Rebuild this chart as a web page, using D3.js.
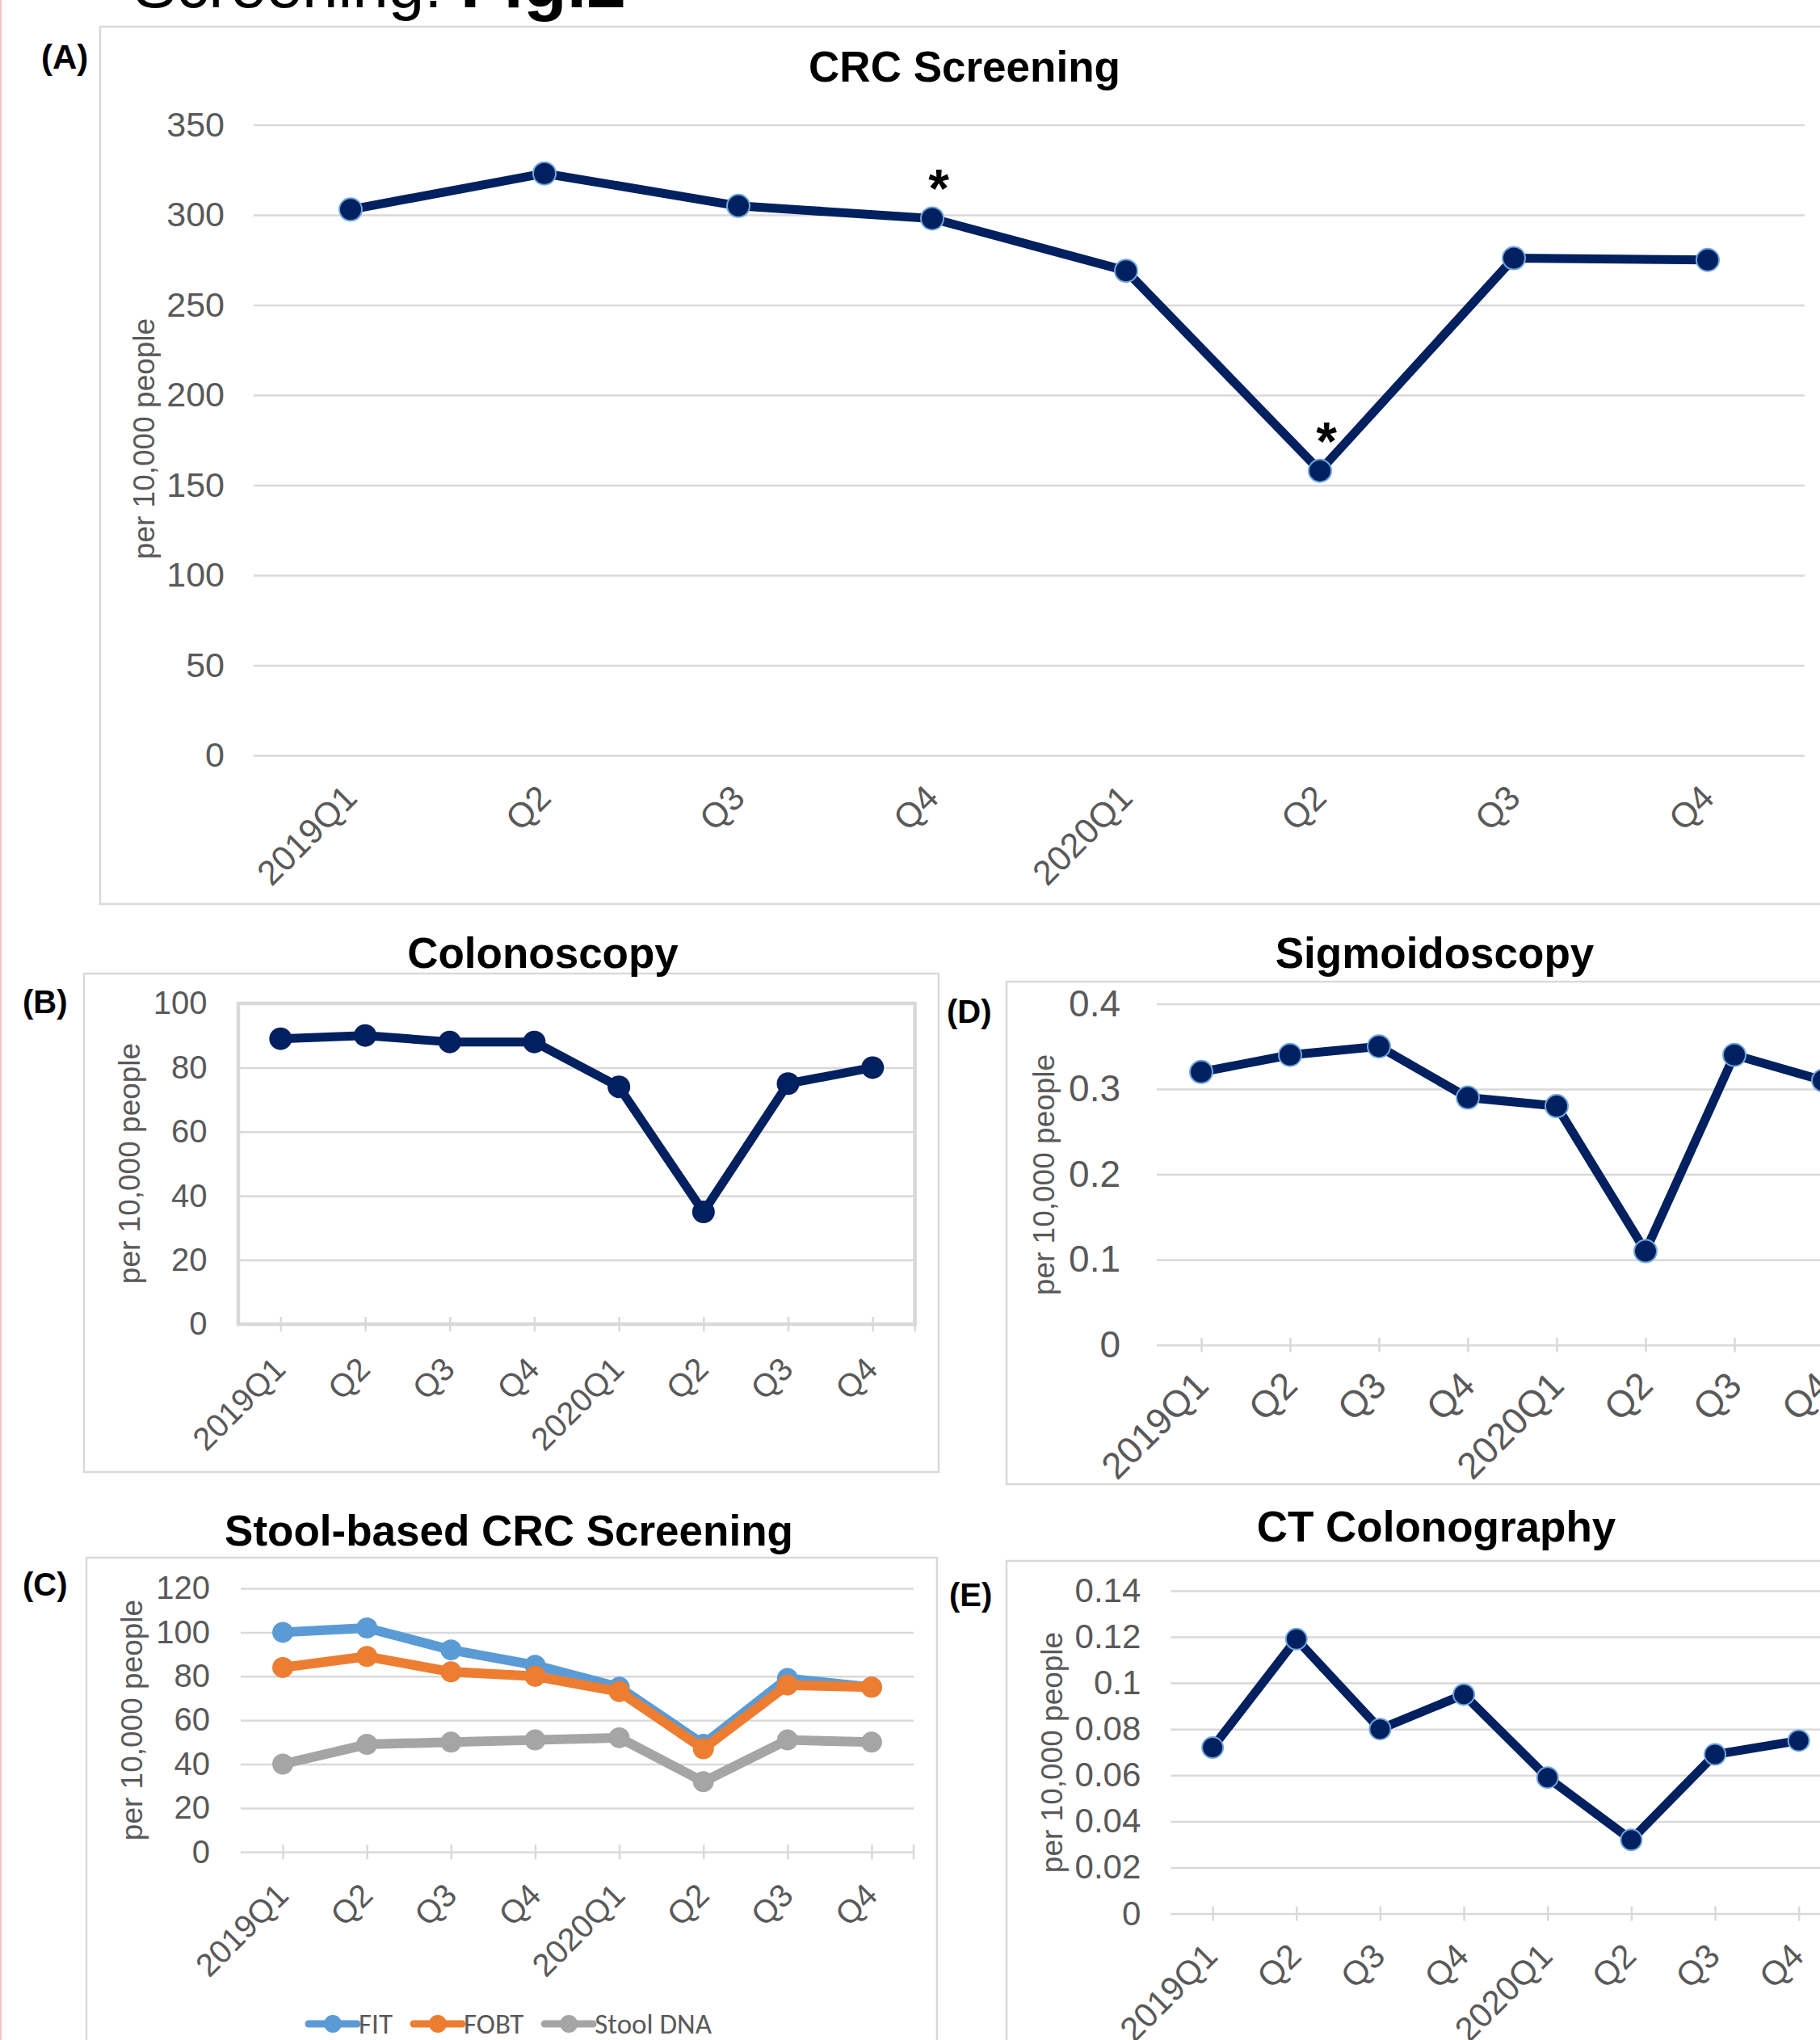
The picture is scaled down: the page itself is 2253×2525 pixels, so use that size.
<!DOCTYPE html>
<html>
<head>
<meta charset="utf-8">
<script src="https://cdn.jsdelivr.net/npm/d3@7"></script>
<style>
  body { margin: 0; background: #fff; }
  svg { display: block; }
</style>
</head>
<body>
<div id="chart"></div>
<script>
var width = 2253, height = 2525;
var font = "'Liberation Sans', Arial, sans-serif";
var navy = "#002060", grid = "#d9d9d9", gray = "#595959";

// data
var quarters = ["2019Q1", "Q2", "Q3", "Q4", "2020Q1", "Q2", "Q3", "Q4"];
var crcScreening = [303, 323, 305, 298, 269, 158, 276, 275];
var colonoscopy = [89, 90, 88, 88, 74, 35, 75, 80];
var sigmoidoscopy = [0.32, 0.34, 0.35, 0.29, 0.28, 0.11, 0.34, 0.31];
var ctColonography = [0.072, 0.119, 0.080, 0.095, 0.059, 0.032, 0.069, 0.075];
var fit = [100, 102, 92, 85, 75, 49, 79, 75];
var fobt = [84, 89, 82, 80, 73, 47, 76, 75];
var stoolDna = [40, 49, 50, 51, 52, 32, 51, 50];
var stoolNames = ["FIT", "FOBT", "Stool DNA"];
var stoolColors = ["#5b9bd5", "#ed7d31", "#a5a5a5"];
var starred = [3, 5]; // quarters marked * in panel A

var ticksA = [0, 50, 100, 150, 200, 250, 300, 350];
var ticksB = [0, 20, 40, 60, 80, 100];
var ticksC = [0, 20, 40, 60, 80, 100, 120];
var ticksD = [0, 0.1, 0.2, 0.3, 0.4];
var ticksE = [0, 0.02, 0.04, 0.06, 0.08, 0.1, 0.12, 0.14];

var svg = d3.select("#chart").append("svg")
    .attr("width", width)
    .attr("height", height);

svg.append("rect").attr("width", width).attr("height", height).attr("fill", "#fff");
svg.append("rect").attr("x", 0).attr("width", 2).attr("height", height).attr("fill", "#f6c4c4");

// heading cut off at the top of the page
var head = svg.append("text")
    .attr("x", 165).attr("y", 9)
    .attr("font-family", font).attr("font-size", 80).attr("fill", "#000");
head.append("tspan").text("Screening: ");
head.append("tspan").attr("font-weight", "bold").attr("font-size", 88).text("Fig.2");

var panels = [
  { frame: [124, 33, 2140, 1086], title: "CRC Screening", titleX: 1194, titleY: 101,
    letter: "(A)", letterX: 51, letterY: 85, letterSize: 42,
    x0: 314, x1: 2234, yZero: 935, yTop: 154.5, yMax: 350, ticks: ticksA,
    tickPad: 36, tickSize: 43, yTitleX: 191, yTitleY: 543,
    labelDx: 10, labelDy: 55, labelSize: 43, crossTicks: false, box: false,
    series: [{ values: crcScreening, color: navy, w: 11, r: 14, outline: true }], stars: true },
  { frame: [104, 1205, 1058, 617], title: "Colonoscopy", titleX: 672, titleY: 1198,
    letter: "(B)", letterX: 28, letterY: 1254, letterSize: 40,
    x0: 295, x1: 1132.6, yZero: 1639, yTop: 1242, yMax: 100, ticks: ticksB,
    tickPad: 38.5, tickSize: 40, yTitleX: 173, yTitleY: 1440,
    labelDx: 8, labelDy: 58, labelSize: 40, crossTicks: true, box: true,
    series: [{ values: colonoscopy, color: navy, w: 11, r: 14, outline: false }] },
  { frame: [107, 1928, 1053, 640], title: "Stool-based CRC Screening", titleX: 630, titleY: 1913,
    letter: "(C)", letterX: 28, letterY: 1975, letterSize: 40,
    x0: 298, x1: 1131, yZero: 2292.3, yTop: 1966, yMax: 120, ticks: ticksC,
    tickPad: 38, tickSize: 40, yTitleX: 176, yTitleY: 2129,
    labelDx: 9, labelDy: 56, labelSize: 40, crossTicks: true, box: false,
    series: [
      { values: fit, color: stoolColors[0], w: 12, r: 13, outline: false },
      { values: fobt, color: stoolColors[1], w: 12, r: 13, outline: false },
      { values: stoolDna, color: stoolColors[2], w: 12, r: 13, outline: false }
    ], legend: true },
  { frame: [1246, 1215, 1100, 622], title: "Sigmoidoscopy", titleX: 1776, titleY: 1198,
    letter: "(D)", letterX: 1172, letterY: 1266, letterSize: 40,
    x0: 1432, x1: 2312, yZero: 1664.7, yTop: 1242.4, yMax: 0.4, ticks: ticksD,
    tickPad: 45, tickSize: 46, yTitleX: 1305, yTitleY: 1454,
    labelDx: 11, labelDy: 53, labelSize: 46, crossTicks: true, box: false,
    series: [{ values: sigmoidoscopy, color: navy, w: 11, r: 14, outline: true }] },
  { frame: [1246, 1932, 1100, 700], title: "CT Colonography", titleX: 1778, titleY: 1908,
    letter: "(E)", letterX: 1175, letterY: 1988, letterSize: 40,
    x0: 1449.3, x1: 2278.5, yZero: 2368.6, yTop: 1968.9, yMax: 0.14, ticks: ticksE,
    tickPad: 37, tickSize: 42, yTitleX: 1315, yTitleY: 2169,
    labelDx: 8, labelDy: 55, labelSize: 42, crossTicks: true, box: false,
    series: [{ values: ctColonography, color: navy, w: 11, r: 13, outline: true }] }
];

panels.forEach(drawPanel);

function fmt(d) {
  return d === 0 ? "0" : String(+d.toFixed(2));
}

function drawPanel(p) {

  var g = svg.append("g");

  g.append("rect")
      .attr("x", p.frame[0]).attr("y", p.frame[1])
      .attr("width", p.frame[2]).attr("height", p.frame[3])
      .attr("fill", "none")
      .attr("stroke", grid)
      .attr("stroke-width", 2.5);

  g.append("text")
      .attr("x", p.titleX).attr("y", p.titleY)
      .attr("text-anchor", "middle")
      .attr("font-family", font).attr("font-weight", "bold").attr("font-size", 53)
      .text(p.title);

  g.append("text")
      .attr("x", p.letterX).attr("y", p.letterY)
      .attr("font-family", font).attr("font-weight", "bold").attr("font-size", p.letterSize)
      .text(p.letter);

  var x = d3.scalePoint()
      .domain(d3.range(quarters.length))
      .range([p.x0, p.x1])
      .padding(0.5);

  var y = d3.scaleLinear()
      .domain([0, p.yMax])
      .range([p.yZero, p.yTop]);

  // gridlines + value labels
  var ya = g.append("g")
      .attr("transform", "translate(" + p.x0 + ",0)")
      .call(d3.axisLeft(y).tickValues(p.ticks).tickFormat(fmt)
        .tickSizeInner(-(p.x1 - p.x0)).tickSizeOuter(0).tickPadding(p.tickPad))
      .attr("font-family", font)
      .attr("font-size", p.tickSize);
  ya.select(".domain").remove();
  ya.selectAll(".tick line")
      .attr("stroke", grid)
      .attr("stroke-width", 2.5);
  ya.selectAll(".tick text").attr("fill", gray);
  if (p.box) {
    ya.selectAll(".tick line").filter(function(d) { return d === 0 || d === p.yMax; }).remove();
    g.append("rect")
        .attr("x", p.x0).attr("y", p.yTop)
        .attr("width", p.x1 - p.x0).attr("height", p.yZero - p.yTop)
        .attr("fill", "none")
        .attr("stroke", grid)
        .attr("stroke-width", 4.5);
  }

  if (p.crossTicks) {
    var tk = g.append("g")
        .attr("transform", "translate(0," + (p.yZero - 9) + ")")
        .call(d3.axisBottom(x).tickSize(18).tickFormat(""));
    tk.select(".domain").remove();
    tk.selectAll("line").attr("stroke", grid).attr("stroke-width", 2.5);
    g.append("line")
        .attr("x1", p.x1).attr("x2", p.x1)
        .attr("y1", p.yZero - 9).attr("y2", p.yZero + 9)
        .attr("stroke", grid).attr("stroke-width", 2.5);
  }

  // quarter labels
  var xa = g.append("g")
      .attr("transform", "translate(0," + p.yZero + ")")
      .call(d3.axisBottom(x).tickSize(0).tickFormat(function(i) { return quarters[i]; }))
      .attr("font-family", font)
      .attr("font-size", p.labelSize);
  xa.select(".domain").remove();
  xa.selectAll(".tick text")
      .attr("y", 0)
      .attr("dy", null)
      .attr("fill", gray)
      .attr("text-anchor", "end")
      .attr("transform", "translate(" + p.labelDx + "," + p.labelDy + ") rotate(-45)");

  g.append("text")
      .attr("transform", "translate(" + p.yTitleX + "," + p.yTitleY + ") rotate(-90)")
      .attr("text-anchor", "middle")
      .attr("font-family", font).attr("font-size", 37)
      .attr("fill", gray)
      .text("per 10,000 people");

  var line = d3.line()
      .x(function(d, i) { return x(i); })
      .y(function(d) { return y(d); });

  p.series.forEach(function(s) {
    g.append("path")
        .datum(s.values)
        .attr("d", line)
        .attr("fill", "none")
        .attr("stroke", s.color)
        .attr("stroke-width", s.w)
        .attr("stroke-linejoin", "round");

    g.selectAll(null)
        .data(s.values)
      .enter().append("circle")
        .attr("cx", function(d, i) { return x(i); })
        .attr("cy", function(d) { return y(d); })
        .attr("r", s.r)
        .attr("fill", s.color)
        .attr("stroke", s.outline ? "#6fa8dc" : s.color)
        .attr("stroke-width", s.outline ? 2 : 0);
  });

  if (p.stars) {
    var vals = p.series[0].values;
    g.selectAll(".star")
        .data(starred)
      .enter().append("text")
        .attr("class", "star")
        .attr("x", function(i) { return x(i) + 8; })
        .attr("y", function(i) { return y(vals[i]) - 14; })
        .attr("text-anchor", "middle")
        .attr("font-family", font).attr("font-weight", "bold").attr("font-size", 66)
        .text("*");
  }

  if (p.legend) {
    var lx = 382, ly = 2505;
    stoolNames.forEach(function(name, k) {
      var item = g.append("g").attr("transform", "translate(" + lx + "," + ly + ")");
      item.append("line")
          .attr("x1", 0).attr("x2", 60)
          .attr("stroke", stoolColors[k]).attr("stroke-width", 9)
          .attr("stroke-linecap", "round");
      item.append("circle")
          .attr("cx", 30).attr("r", 11)
          .attr("fill", stoolColors[k]);
      var t = item.append("text")
          .attr("x", 62).attr("y", 12)
          .attr("font-family", "Carlito, Lato, sans-serif").attr("font-size", 35)
          .attr("fill", gray)
          .text(name);
      lx += 62 + t.node().getComputedTextLength() + 26;
    });
  }
}
</script>
</body>
</html>
